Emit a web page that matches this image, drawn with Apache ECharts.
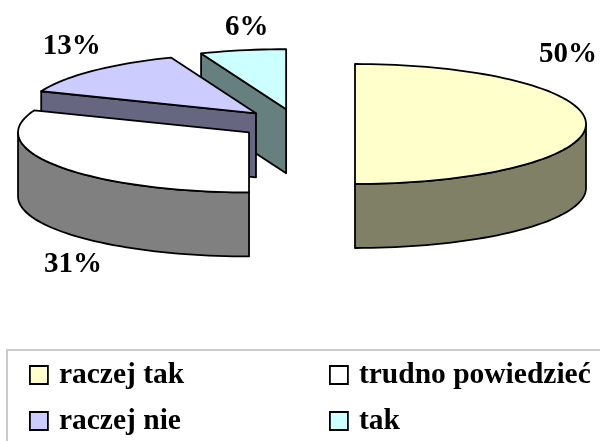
<!DOCTYPE html>
<html><head><meta charset="utf-8">
<style>html,body{margin:0;padding:0;background:#fff}#c{width:600px;height:441px}</style>
<script src="https://cdn.jsdelivr.net/npm/echarts@6/dist/echarts.min.js"></script>
</head><body><div id="c"></div>
<script>
const names = ['raczej tak', 'trudno powiedzieć', 'raczej nie', 'tak'];
const values = [50, 31, 13, 6];
const topColors = ['#ffffcc', '#ffffff', '#ccccff', '#ccffff'];
const sideColors = ['#808066', '#808080', '#666680', '#668080'];

const GEO = {cx: 297, cy: 124, rx: 231, ry: 60, depth: 64, explode: 58};
const LABEL_OFFSET = [[-18, -69], [15, 98], [-21, -24], [4, -23]];
const FONT = '"Liberation Serif"';
const total = values.reduce((a, b) => a + b, 0);
const starts = values.map((_, i) => values.slice(0, i).reduce((a, b) => a + b, 0) / total * 360);

function pt(c, deg, dy) {
  const r = deg * Math.PI / 180;
  return [c[0] + GEO.rx * Math.sin(r), c[1] - GEO.ry * Math.cos(r) + (dy || 0)];
}
function arc(c, a, b, dy) {
  const out = [];
  const n = Math.max(2, Math.ceil((b - a) / 2));
  for (let i = 0; i <= n; i++) out.push(pt(c, a + (b - a) * i / n, dy));
  return out;
}
function renderSlice(i) {
  const a = starts[i], b = a + values[i] / total * 360, mid = (a + b) / 2;
  const mr = mid * Math.PI / 180;
  const c = [GEO.cx + GEO.explode * Math.sin(mr),
             GEO.cy - GEO.explode * Math.cos(mr) * GEO.ry / GEO.rx];
  const line = {stroke: '#000', lineWidth: 1.8, lineJoin: 'round'};
  const kids = [];
  // radial wall of the leading cut, visible on the rear-left half
  if (a > 180 && a < 360) {
    const p = pt(c, a);
    kids.push({type: 'polygon', shape: {points: [c, p, [p[0], p[1] + GEO.depth], [c[0], c[1] + GEO.depth]]},
      style: Object.assign({fill: sideColors[i]}, line)});
  }
  // outer wall on the front half
  const fa = Math.max(a, 90), fb = Math.min(b, 270);
  if (fb > fa) {
    const pts = arc(c, fa, fb, 0).concat(arc(c, fa, fb, GEO.depth).reverse());
    kids.push({type: 'polygon', shape: {points: pts}, style: Object.assign({fill: sideColors[i]}, line)});
  }
  // top face
  kids.push({type: 'polygon', shape: {points: [c].concat(arc(c, a, b, 0))},
    style: Object.assign({fill: topColors[i]}, line)});
  // percent label
  const anchor = pt(c, mid);
  kids.push({type: 'text', x: anchor[0] + LABEL_OFFSET[i][0], y: anchor[1] + LABEL_OFFSET[i][1],
    style: {text: values[i] + '%', fill: '#000', font: 'bold 29px ' + FONT, align: 'center', verticalAlign: 'middle'}});
  return {type: 'group', children: kids};
}
const order = values.map((_, i) => i).reverse();
const legendBase = {
  orient: 'vertical', icon: 'rect', itemWidth: 18, itemHeight: 18, itemGap: 16,
  selectedMode: false, top: 360,
  textStyle: {fontFamily: FONT, fontWeight: 'bold', fontSize: 29.5, lineHeight: 30, color: '#000', padding: [0, 0, 0, 6]},
  itemStyle: {borderColor: '#000', borderWidth: 1.8},
  padding: 0
};
const chart = echarts.init(document.getElementById('c'), null, {renderer: 'canvas'});
chart.setOption({
  animation: false,
  backgroundColor: '#fff',
  legend: [
    Object.assign({}, legendBase, {left: 29, data: [names[0], names[2]]}),
    Object.assign({}, legendBase, {left: 329, data: [names[1], names[3]]})
  ],
  graphic: [{type: 'rect', silent: true, shape: {x: 7, y: 350, width: 640, height: 140},
    style: {fill: 'none', stroke: '#cccccc', lineWidth: 2}}],
  series: order.map(i => ({
    type: 'custom', name: names[i], coordinateSystem: 'none', silent: true,
    itemStyle: {color: topColors[i]},
    data: [values[i]],
    renderItem: () => renderSlice(i)
  }))
});
</script></body></html>
